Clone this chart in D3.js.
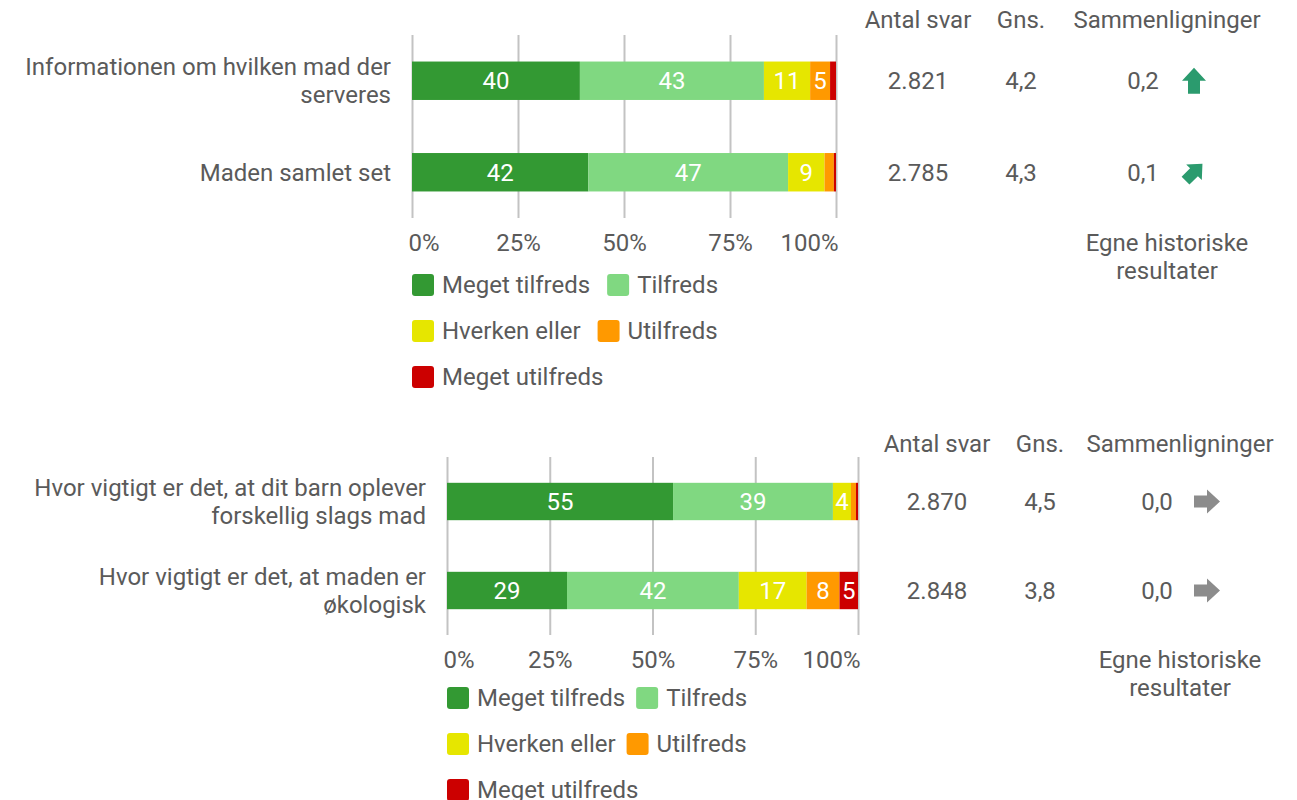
<!DOCTYPE html>
<html>
<head>
<meta charset="utf-8">
<script src="https://cdn.jsdelivr.net/npm/d3@7"></script>
<style>
  body { margin: 0; background: #fff; }
  svg text { font-family: Roboto, "Noto Sans", sans-serif; fill: #5a5a5a; }
</style>
</head>
<body>
<svg id="chart" width="1297" height="800"></svg>
<script>
// answer categories and colours
var categories = ["Meget tilfreds", "Tilfreds", "Hverken eller", "Utilfreds", "Meget utilfreds"];
var colors = ["#339933", "#80d881", "#e6e600", "#ff9900", "#cc0000"];
var ticks = [0, 25, 50, 75, 100];

// panel 1
var questions1 = [["Informationen om hvilken mad der", "serveres"], ["Maden samlet set"]];
var shares1 = [[39.6, 43.4, 10.9, 4.7, 1.4], [41.6, 47.1, 8.6, 2.2, 0.5]];
var antal1 = ["2.821", "2.785"];
var gns1 = ["4,2", "4,3"];
var diff1 = ["0,2", "0,1"];
var trend1 = ["up", "upright"];

// panel 2
var questions2 = [["Hvor vigtigt er det, at dit barn oplever", "forskellig slags mad"], ["Hvor vigtigt er det, at maden er", "økologisk"]];
var shares2 = [[55.0, 38.9, 4.4, 1.2, 0.5], [29.2, 41.8, 16.5, 8.0, 4.5]];
var antal2 = ["2.870", "2.848"];
var gns2 = ["4,5", "3,8"];
var diff2 = ["0,0", "0,0"];
var trend2 = ["right", "right"];

var headers = ["Antal svar", "Gns.", "Sammenligninger"];
var footnote = ["Egne historiske", "resultater"];

var trendStyle = {
  up: {rot: 0, fill: "#2b9b6e", scale: 1},
  upright: {rot: 45, fill: "#2b9b6e", scale: 0.92},
  right: {rot: 90, fill: "#8c8c8c", scale: 1}
};

var FS = 24;
var svg = d3.select("#chart");

function drawPanel(p){
  var g = svg.append("g");

  var x = d3.scaleLinear().domain([0, 100]).range([p.x0, p.x1]);
  var y = d3.scaleBand().domain(d3.range(p.questions.length))
    .range([p.gridTop, p.gridBottom]).paddingInner(0.58).paddingOuter(0.29);

  // grid lines + tick labels
  var axis = d3.axisBottom(x).tickValues(ticks).tickFormat(d => d + "%")
    .tickSize(-(p.gridBottom - p.gridTop)).tickPadding(16);
  var ax = g.append("g").attr("transform", "translate(0," + p.gridBottom + ")").call(axis);
  ax.select(".domain").remove();
  ax.selectAll(".tick line").attr("stroke", "#c3c3c3").attr("stroke-width", 2);
  ax.selectAll(".tick text")
    .attr("font-size", FS).attr("font-family", null).attr("fill", "#5a5a5a")
    .attr("text-anchor", (d, i) => i === 0 ? "start" : (i === ticks.length - 1 ? "end" : "middle"))
    .attr("dx", (d, i) => i === 0 ? -4 : (i === ticks.length - 1 ? 2 : 0));

  // stacked bars
  p.shares.forEach(function(row, r){
    var stack = d3.cumsum(row);
    var segs = row.map((v, i) => ({v: v, i: i, start: stack[i] - v, end: stack[i]}));
    var bar = g.append("g");
    bar.selectAll("rect").data(segs).join("rect")
      .attr("x", d => x(d.start))
      .attr("width", d => x(d.end) - x(d.start))
      .attr("y", y(r)).attr("height", y.bandwidth())
      .attr("fill", d => colors[d.i]);
    bar.selectAll("text").data(segs.filter(d => d.v >= 3)).join("text")
      .attr("x", d => (x(d.start) + x(d.end)) / 2)
      .attr("y", y(r) + y.bandwidth() / 2)
      .attr("dy", "0.35em")
      .attr("text-anchor", "middle")
      .attr("font-size", FS)
      .style("fill", "#ffffff")
      .text(d => Math.round(d.v));

    // question label
    var cy = y(r) + y.bandwidth() / 2;
    var lines = p.questions[r];
    var lh = 28;
    var t = g.append("text").attr("text-anchor", "end").attr("font-size", FS);
    lines.forEach(function(line, k){
      t.append("tspan").attr("x", p.x0 - 21)
        .attr("y", cy + (k - (lines.length - 1) / 2) * lh)
        .attr("dy", "0.35em").text(line);
    });

    // side columns
    g.append("text").attr("x", p.colAntal).attr("y", cy).attr("dy", "0.35em")
      .attr("text-anchor", "middle").attr("font-size", FS).text(p.antal[r]);
    g.append("text").attr("x", p.colGns).attr("y", cy).attr("dy", "0.35em")
      .attr("text-anchor", "middle").attr("font-size", FS).text(p.gns[r]);
    g.append("text").attr("x", p.colDiff).attr("y", cy).attr("dy", "0.35em")
      .attr("text-anchor", "middle").attr("font-size", FS).text(p.diff[r]);
    var st = trendStyle[p.trend[r]];
    g.append("path")
      .attr("d", "M0,-13L12,0L6,0L6,13L-6,13L-6,0L-12,0Z")
      .attr("fill", st.fill)
      .attr("transform", "translate(" + p.colArrow + "," + cy + ") rotate(" + st.rot + ") scale(" + st.scale + ")");
  });

  // headers
  [p.colAntal, p.colGns, p.colSam].forEach(function(cx, i){
    g.append("text").attr("x", cx).attr("y", p.headerY).attr("dy", "0.35em")
      .attr("text-anchor", "middle").attr("font-size", FS).text(headers[i]);
  });
  footnote.forEach(function(line, k){
    g.append("text").attr("x", p.colSam).attr("y", p.footY + k * 28).attr("dy", "0.35em")
      .attr("text-anchor", "middle").attr("font-size", FS).text(line);
  });

  // legend (flowing rows)
  var lx = p.x0, ly = p.legendY, maxX = p.x0 + 322;
  categories.forEach(function(c, i){
    var item = g.append("g");
    item.append("rect").attr("x", 0).attr("y", -11).attr("width", 22).attr("height", 22)
      .attr("rx", 3).attr("fill", colors[i]);
    var tx = item.append("text").attr("x", 30).attr("y", 0).attr("dy", "0.35em")
      .attr("font-size", FS).text(c);
    var w = 30 + tx.node().getComputedTextLength();
    if(lx !== p.x0 && lx + w > maxX){ lx = p.x0; ly += 46; }
    item.attr("transform", "translate(" + lx + "," + ly + ")");
    lx += w + p.legendGap;
  });
}

drawPanel({
  questions: questions1, shares: shares1, antal: antal1, gns: gns1, diff: diff1, trend: trend1,
  x0: 412, x1: 836, gridTop: 35, gridBottom: 218,
  colAntal: 918, colGns: 1021, colSam: 1167, colDiff: 1143, colArrow: 1194,
  headerY: 20, footY: 243, legendY: 285, legendGap: 17
});

drawPanel({
  questions: questions2, shares: shares2, antal: antal2, gns: gns2, diff: diff2, trend: trend2,
  x0: 447, x1: 858, gridTop: 457, gridBottom: 635,
  colAntal: 937, colGns: 1040, colSam: 1180, colDiff: 1157, colArrow: 1207,
  headerY: 444, footY: 660, legendY: 698, legendGap: 11
});
</script>
</body>
</html>
